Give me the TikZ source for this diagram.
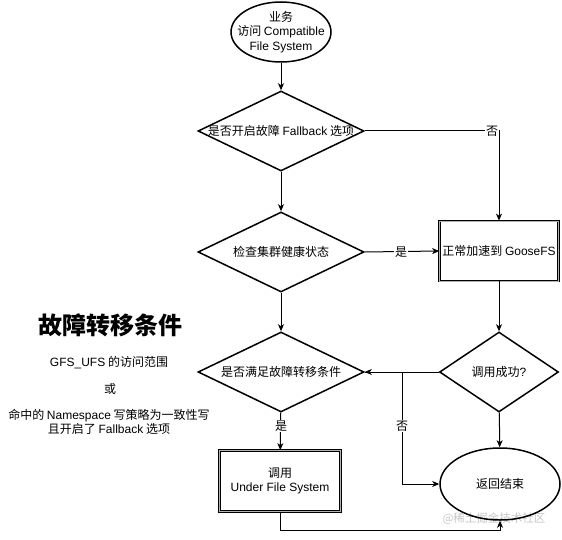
\documentclass[tikz,border=0pt]{standalone}
\usepackage{fontspec}
\setmainfont{Noto Sans CJK SC}
\newfontfamily\en{Liberation Sans}
\usetikzlibrary{shapes.geometric,arrows.meta}
\begin{document}
\begin{tikzpicture}[x=1pt,y=-1pt,
  shp/.style={draw=black,line width=1.5pt,fill=white,inner sep=0pt},
  dia/.style={shp,diamond,minimum width=#1,minimum height=80pt},
  ell/.style={shp,ellipse},
  dbox/.style={draw=black,line width=0.7pt,double=gray!60,double distance=0.9pt,fill=white,align=center,inner sep=0pt},
  txt/.style={font=\fontsize{12}{14.5}\selectfont,align=center,inner sep=0pt},
  side/.style={font=\fontsize{12}{14}\selectfont,align=center,inner sep=0pt},
  lbl/.style={font=\fontsize{12}{14}\selectfont,fill=white,inner sep=1pt},
  arr/.style={line width=1pt,-{Stealth[length=7pt,width=6pt,inset=2pt]}},
  ln/.style={line width=1pt}]
\useasboundingbox (0,0) rectangle (562,540);
% watermark (behind)
\node[font=\fontsize{11.5}{13}\selectfont,text=gray!45,inner sep=0pt] (wm) at (494,519) {@稀土掘金技术社区};
% shapes
\node[ell,minimum width=100pt,minimum height=60pt] (e1) at (281,32) {};
\node[txt] (e1t) at (e1) {业务\\访问 {\en Compatible}\\{\en File System}};
\node[dia=166pt] (d1) at (281,131) {};
\node[txt] (d1t) at (d1) {是否开启故障 {\en Fallback} 选项};
\node[dia=166pt] (d2) at (281,252) {};
\node[txt] (d2t) at (d2) {检查集群健康状态};
\node[dia=166pt] (d3) at (281,372) {};
\node[txt] (d3t) at (d3) {是否满足故障转移条件};
\node[dbox,minimum width=119pt,minimum height=60pt] (g) at (499,251) {};
\node[txt] (gt) at (g) {正常加速到 {\en GooseFS}};
\node[dia=119pt] (d4) at (499,372) {};
\node[txt] (d4t) at (d4) {调用成功{\en ?}};
\node[dbox,minimum width=121pt,minimum height=61pt] (u) at (280,481) {};
\node[txt] (ut) at (u) {调用\\{\en Under File System}};
\node[ell,minimum width=120pt,minimum height=72pt,fill=none] (e2) at (500,484) {};
\node[txt] (e2t) at (e2) {返回结束};
% side text
\node[font=\fontsize{24}{28}\selectfont\bfseries,inner sep=0pt] (title) at (110,325) {故障转移条件};
\node[side] (s1) at (109,363) {{\en GFS\_UFS} 的访问范围};
\node[side] (s2) at (110,389) {或};
\node[side] (s3) at (109,421.5) {命中的 {\en Namespace} 写策略为一致性写\\且开启了 {\en Fallback} 选项};
% connectors
\coordinate (c1) at (499,131);
\coordinate (c2) at (402,372);
\coordinate (c3) at (402,484);
\coordinate (c4) at (280,530);
\coordinate (c5) at (500,530);
\draw[arr] (e1) -- (d1);
\draw[arr] (d1.east) -- (c1) -- (g.north);
\node[lbl] (n1) at (492,131) {否};
\draw[arr] (d1) -- (d2);
\draw[arr] (d2.east) -- (g.west);
\node[lbl] (y1) at (401,252) {是};
\draw[arr] (d2) -- (d3);
\draw[arr] (g) -- (d4);
\draw[arr] (d4.west) -- (d3.east);
\draw[arr] (d3.east) -- (c2) -- (c3) -- (e2.west);
\node[lbl] (n2) at (402,426) {否};
\draw[arr] (d3) -- (u);
\node[lbl] (y2) at (281,426) {是};
\draw[arr] (d4) -- (e2);
\draw[arr] (u.south) -- (c4) -- (c5) -- (e2.south);
\end{tikzpicture}
\end{document}
